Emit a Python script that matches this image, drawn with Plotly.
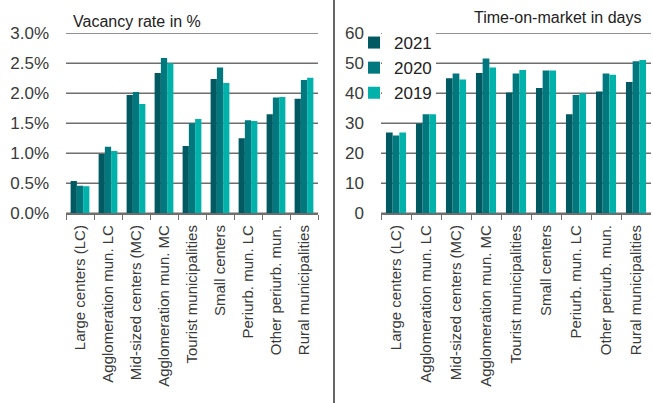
import plotly.graph_objects as go

# Municipality types (shared by both panels)
categories = [
    "Large centers (LC)",
    "Agglomeration mun. LC",
    "Mid-sized centers (MC)",
    "Agglomeration mun. MC",
    "Tourist municipalities",
    "Small centers",
    "Periurb. mun. LC",
    "Other periurb. mun.",
    "Rural municipalities",
]
years = ["2021", "2020", "2019"]

# Vacancy rate in %
vacancy_2021 = [0.54, 0.99, 1.97, 2.34, 1.12, 2.24, 1.25, 1.65, 1.91]
vacancy_2020 = [0.46, 1.11, 2.02, 2.59, 1.50, 2.43, 1.55, 1.93, 2.22]
vacancy_2019 = [0.45, 1.04, 1.82, 2.50, 1.57, 2.17, 1.54, 1.94, 2.26]
vacancy_ticks = [0.0, 0.5, 1.0, 1.5, 2.0, 2.5, 3.0]
vacancy_tick_labels = [f"{t:.1f}%" for t in vacancy_ticks]

# Time-on-market in days
tom_2021 = [26.9, 29.9, 45.0, 46.8, 40.3, 41.8, 33.0, 40.6, 43.8]
tom_2020 = [25.9, 33.0, 46.6, 51.6, 46.6, 47.6, 39.4, 46.6, 50.7]
tom_2019 = [26.9, 33.0, 44.6, 48.6, 47.8, 47.6, 40.0, 46.2, 51.1]
tom_ticks = [0, 10, 20, 30, 40, 50, 60]
tom_tick_labels = [str(t) for t in tom_ticks]

colors = ["#015a62", "#00787e", "#01b1aa"]
FONT = "Liberation Sans, Arial, sans-serif"
TEXT = "#3a3a3a"
GRID = "#6e6e6e"

W, H = 653, 403


def px_x(x):
    return x / W


def px_y(y):
    return 1 - y / H


fig = go.Figure()

for name, vals, col in zip(years, [vacancy_2021, vacancy_2020, vacancy_2019], colors):
    fig.add_trace(go.Bar(x=categories, y=vals, name=name, marker_color=col,
                         marker_line_width=0, xaxis="x", yaxis="y",
                         showlegend=False))

for name, vals, col in zip(years, [tom_2021, tom_2020, tom_2019], colors):
    fig.add_trace(go.Bar(x=categories, y=vals, name=name, marker_color=col,
                         marker_line_width=0, xaxis="x2", yaxis="y2",
                         legendgroup=name, showlegend=True))

ydom = [px_y(213.3), px_y(33.3)]

xaxis_common = dict(
    type="category", showgrid=False, showline=True, linecolor=GRID, linewidth=1.6,
    ticks="outside", tickson="boundaries", ticklen=5, tickcolor=GRID, tickwidth=1.3,
    tickangle=-90, tickfont=dict(family=FONT, size=15, color=TEXT), fixedrange=True,
    automargin=False, ticklabelstandoff=4,
)
yaxis_common = dict(
    showline=False, ticks="", showgrid=False, zeroline=False,
    tickfont=dict(family=FONT, size=17, color=TEXT),
    ticklabelstandoff=16, fixedrange=True, automargin=False, tickmode="array",
)

fig.update_layout(
    width=W, height=H,
    margin=dict(l=0, r=0, t=0, b=0, autoexpand=False),
    paper_bgcolor="white", plot_bgcolor="white",
    barmode="group", bargap=0.33, bargroupgap=0,
    font=dict(family=FONT, color=TEXT),
    xaxis=dict(domain=[px_x(66), px_x(318)], anchor="y", **xaxis_common),
    yaxis=dict(domain=ydom, anchor="x", range=[0, 3.0], tickvals=vacancy_ticks,
               ticktext=vacancy_tick_labels, **yaxis_common),
    xaxis2=dict(domain=[px_x(381), px_x(651)], anchor="y2", **xaxis_common),
    yaxis2=dict(domain=ydom, anchor="x2", range=[0, 60], tickvals=tom_ticks,
                ticktext=tom_tick_labels, **yaxis_common),
    legend=dict(
        x=px_x(354), y=px_y(25), xanchor="left", yanchor="top",
        bgcolor="rgba(0,0,0,0)", borderwidth=0,
        font=dict(family=FONT, size=17, color="#222"),
        traceorder="grouped", tracegroupgap=0, itemwidth=30,
    ),
    showlegend=True,
)

# Horizontal gridlines behind the bars, one per tick value (top line included)
for yref, xref, ticks in (("y", "x domain", vacancy_ticks),
                          ("y2", "x2 domain", tom_ticks)):
    for t in ticks:
        fig.add_shape(type="line", xref=xref, yref=yref, x0=0, x1=1, y0=t, y1=t,
                      line=dict(color=GRID, width=1.6), layer="below")

# Opaque backing behind the legend keys on the right panel
fig.add_shape(type="rect", xref="paper", yref="paper",
              x0=px_x(382), x1=px_x(436), y0=px_y(104), y1=px_y(26),
              fillcolor="white", line_width=0, layer="above")

# Divider between the two panels
fig.add_shape(type="line", xref="paper", yref="paper",
              x0=px_x(334), x1=px_x(334), y0=0, y1=1,
              line=dict(color="#333333", width=1.5))

# Panel titles
fig.add_annotation(text="Vacancy rate in %", xref="paper", yref="paper",
                   x=px_x(71), y=px_y(22), xanchor="left", yanchor="middle",
                   showarrow=False, font=dict(family=FONT, size=16, color="#222"))
fig.add_annotation(text="Time-on-market in days", xref="paper", yref="paper",
                   x=px_x(643), y=px_y(18), xanchor="right", yanchor="middle",
                   showarrow=False, font=dict(family=FONT, size=16, color="#222"))

fig.write_html("out.html")
